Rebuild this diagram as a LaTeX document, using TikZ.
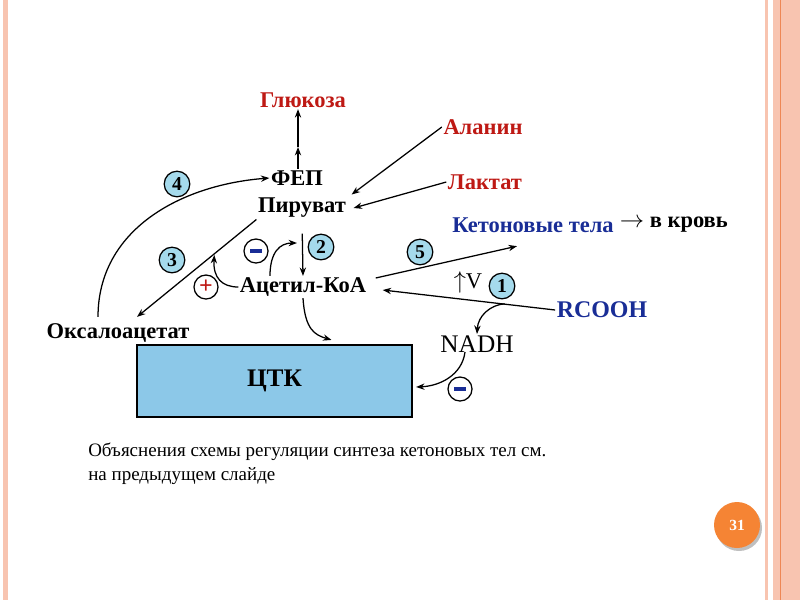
\documentclass[tikz,border=0pt]{standalone}
\usepackage{fontspec}
\setmainfont{Liberation Serif}
\usetikzlibrary{positioning}
\usetikzlibrary{arrows.meta}
\usetikzlibrary{calc}

\definecolor{labred}{RGB}{190,25,20}
\definecolor{labblue}{RGB}{25,45,150}
\definecolor{numcyan}{RGB}{165,218,236}
\definecolor{tcacyan}{RGB}{140,200,232}
\definecolor{stripe}{RGB}{248,196,176}
\definecolor{stripeline}{RGB}{238,135,85}
\definecolor{pgorange}{RGB}{245,132,52}

\begin{document}
\begin{tikzpicture}[x=0.025cm, y=-0.025cm,
    lbl/.style = {inner sep=1pt, font=\fontsize{16}{18}\selectfont\bfseries},
    redlbl/.style = {lbl, text=labred},
    bluelbl/.style = {lbl, text=labblue},
    num/.style = {draw, circle, fill=numcyan, inner sep=0pt, minimum size=0.64cm, line width=0.9pt, font=\fontsize{14}{14}\selectfont\bfseries},
    sign/.style = {draw, circle, fill=white, inner sep=0pt, minimum size=0.6cm, line width=0.9pt},
    arr/.style = {-{Stealth[length=6pt,width=4.5pt]}, line width=0.9pt}]
    \useasboundingbox (0,0) rectangle (800,600);

    % slide frame
    \fill[stripe] (3,0) rectangle (8,600);
    \fill[stripe] (765,0) rectangle (768,600);
    \fill[stripe] (773,0) rectangle (800,600);
    \draw[stripeline, line width=0.6pt] (780,0) -- (780,600);
    \fill[black!25] (739,528) circle (23);
    \node[circle, fill=pgorange, minimum size=1.15cm, text=white, font=\fontsize{11}{11}\selectfont\bfseries] (page) at (737,525) {31};

    % substances
    \node[redlbl] (glc) at (303,100) {Глюкоза};
    \node[lbl] (fep) at (297,178) {ФЕП};
    \node[lbl] (pyr) at (302,208) {Пируват};
    \node[redlbl] (ala) at (483,127) {Аланин};
    \node[redlbl] (lac) at (485,182) {Лактат};
    \node[bluelbl] (ket) at (533,225) {Кетоновые тела};
    \node[lbl] (blood) [right=2pt of ket] {$\rightarrow$ в кровь};
    \node[lbl] (acoa) at (303,287) {Ацетил-КоА};
    \node[lbl] (oaa) at (118,333) {Оксалоацетат};
    \node[bluelbl, font=\fontsize{17}{19}\selectfont\bfseries] (rcooh) at (602,310) {RCOOH};
    \node[lbl, font=\fontsize{18}{20}\selectfont] (nadh) at (477,344) {NADH};
    \node[lbl, font=\fontsize{16}{18}\selectfont] (vel) at (468,282) {$\uparrow$V};
    \node[draw, fill=tcacyan, line width=1.5pt, minimum width=6.875cm, minimum height=1.8cm, font=\fontsize{18}{20}\selectfont\bfseries] (tca) at (274.5,381) {ЦТК};

    % regulation marks
    \node[num] (n1) at (502,286) {1};
    \node[num] (n2) at (321,247) {2};
    \node[num] (n3) at (172,260) {3};
    \node[num] (n4) at (177,184) {4};
    \node[num] (n5) at (420,252) {5};
    \node[sign] (m1) at (256,251) {\textcolor{labblue}{\rule{8pt}{2.5pt}}};
    \node[sign] (p1) at (206,287) {\textcolor{labred}{\fontsize{17}{17}\selectfont\bfseries +}};
    \node[sign] (m2) at (460,389) {\textcolor{labblue}{\rule{8pt}{2.5pt}}};

    % pathways
    \coordinate (mid) at (298,147);
    \draw[arr] (fep.north -| mid) -- (mid);
    \draw[arr] (mid) -- (mid |- glc.south);
    \draw[arr] (ala.west) -- ($(pyr.north east)+(4,-2)$);
    \draw[arr] (lac.west) -- ($(pyr.east)+(6,0)$);
    \draw[arr, shorten <=10pt] (pyr.south) -- (acoa.north);
    \draw[arr] (pyr.south west) -- ($(oaa.north)+(19,-5)$);
    \draw[arr] ($(oaa.north)+(-20,-5)$) .. controls (98,230) and (180,185) .. (fep.west);
    \draw[arr] (acoa.south) .. controls (305,330) and (315,335) .. ($(tca.north)+(57,-4)$);
    \draw[arr] ($(acoa.north)+(-33,0)$) .. controls (270,252) and (280,243) .. (297,243);
    \draw[arr] (acoa.west) .. controls (222,287) and (213,278) .. ($(acoa.west)+(-24,-32)$);
    \draw[arr] ($(acoa.east)+(8,-9)$) -- ($(ket.south)+(-16,12)$);
    \draw[arr] (rcooh.west) -- ($(acoa.east)+(15,3)$);
    \draw[arr] ($(rcooh.west)!0.27!(acoa.east)$) .. controls (490,305) and (478,316) .. (nadh.north);
    \draw[arr] ($(nadh.south)+(-12,-2)$) .. controls (462,375) and (440,386) .. ($(tca.east)+(3,6)$);

    % caption
    \node[align=left, anchor=north west, inner sep=0pt, font=\fontsize{13.5}{17}\selectfont] (note) at (88,443) {Объяснения схемы регуляции синтеза кетоновых тел см.\\на предыдущем слайде};
\end{tikzpicture}
\end{document}
